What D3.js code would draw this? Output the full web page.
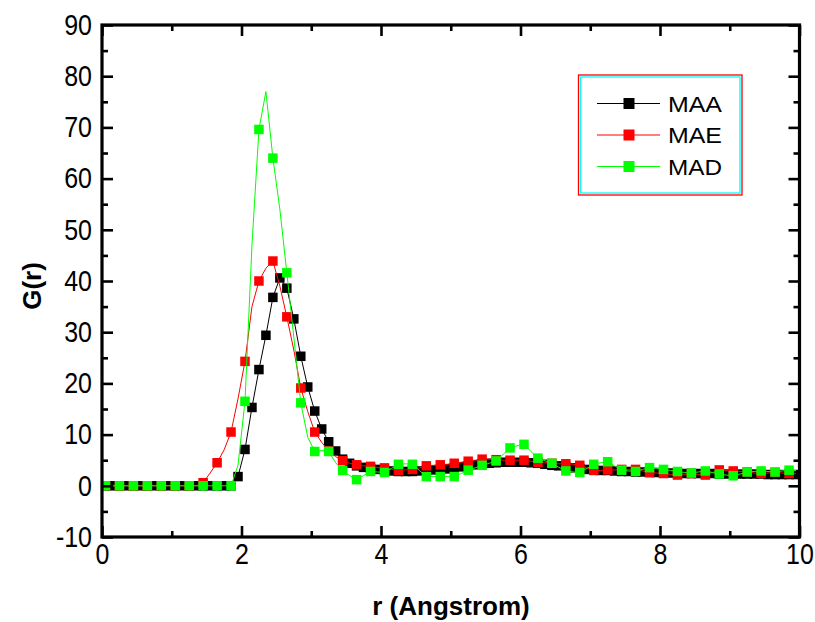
<!DOCTYPE html>
<html><head><meta charset="utf-8">
<script src="https://cdn.jsdelivr.net/npm/d3@7"></script>
<style>
html,body{margin:0;padding:0;background:#fff;}
svg{display:block;font-family:"Liberation Sans",Arial,sans-serif;}
</style></head>
<body><svg id="c" width="815" height="622"></svg>
<script>
// r grid (Angstrom)
const rValues = [0.05,0.15,0.25,0.35,0.45,0.55,0.65,0.75,0.85,0.95,1.05,1.15,1.25,1.35,1.45,1.55,1.65,1.75,1.85,1.95,
2.05,2.15,2.25,2.35,2.45,2.55,2.65,2.75,2.85,2.95,3.05,3.15,3.25,3.35,3.45,3.55,3.65,3.75,3.85,3.95,
4.05,4.15,4.25,4.35,4.45,4.55,4.65,4.75,4.85,4.95,5.05,5.15,5.25,5.35,5.45,5.55,5.65,5.75,5.85,5.95,
6.05,6.15,6.25,6.35,6.45,6.55,6.65,6.75,6.85,6.95,7.05,7.15,7.25,7.35,7.45,7.55,7.65,7.75,7.85,7.95,
8.05,8.15,8.25,8.35,8.45,8.55,8.65,8.75,8.85,8.95,9.05,9.15,9.25,9.35,9.45,9.55,9.65,9.75,9.85,9.95];

const seriesNames = ["MAA","MAE","MAD"];

const maaValues = [0,0,0,0,0,0,0,0,0,0,0,0,0,0,0,0,0,0,0,1.8,
7.1,15.3,22.7,29.4,36.8,40.6,38.6,32.6,25.3,19.3,14.6,11.1,8.6,6.8,5.2,4.4,3.9,3.6,3.4,3.2,
3.0,2.9,2.8,2.8,2.8,2.9,3.0,3.1,3.2,3.3,3.5,3.7,3.9,4.1,4.3,4.4,4.5,4.6,4.6,4.6,
4.6,4.5,4.4,4.2,4.0,3.9,3.7,3.5,3.4,3.2,3.1,3.0,3.0,2.9,2.8,2.8,2.7,2.7,2.6,2.6,
2.5,2.5,2.5,2.4,2.4,2.4,2.4,2.4,2.3,2.3,2.3,2.3,2.3,2.3,2.3,2.2,2.2,2.2,2.2,2.2];

const maeValues = [0,0,0,0,0,0,0,0,0,0,0,0,0,0,0.6,2.5,4.5,7,10.5,17,
24.3,35,40,42.5,43.9,39,33,26.5,19.1,14.5,10.5,8.5,6.8,5.7,4.9,4.4,4.1,3.9,3.8,3.6,
3.5,3.2,3.0,3.1,3.2,3.5,3.9,4.0,4.1,4.2,4.4,4.6,4.8,5.0,5.2,5.2,5.1,5.0,5.0,5.0,
5.0,4.8,4.6,4.5,4.4,4.3,4.3,4.2,4.0,3.5,3.0,3.0,3.1,3.1,3.2,3.2,3.2,2.9,2.6,2.5,
2.4,2.2,2.1,2.2,2.4,2.2,2.1,2.6,3.1,3.0,2.9,2.8,2.7,2.5,2.4,2.5,2.6,2.5,2.4,2.4];

const madValues = [0,0,0,0,0,0,0,0,0,0,0,0,0,0,0,0,0,0,0,4,
16.5,47,69.6,77,64,54,41.6,29,16.2,9.5,6.7,6.9,6.7,4.5,3.0,2.0,1.2,2.0,2.8,2.7,
2.6,3.4,4.2,4.3,4.2,3.0,1.8,1.8,1.8,1.8,1.8,2.4,3.05,3.5,4.0,4.4,4.85,6.1,7.4,7.8,
8.1,6.7,5.4,4.9,4.4,3.6,2.9,2.7,2.6,3.4,4.2,4.5,4.7,3.9,3.05,2.9,2.8,3.2,3.55,3.4,
3.2,3.0,2.8,2.6,2.5,2.7,2.9,2.6,2.3,2.1,1.95,2.3,2.7,2.8,2.9,2.8,2.7,2.9,3.05,3.0];

const xMajorTicks = [0,2,4,6,8,10];
const xMinorTicks = [1,3,5,7,9];
const yMajorTicks = [-10,0,10,20,30,40,50,60,70,80,90];
const yMinorTicks = [-5,5,15,25,35,45,55,65,75,85];

const colors = ["#000000","#ff0000","#00ff00"];
const markerEvery = [1,2,2];

const svg = d3.select("#c");
const L = 102, R = 799.5, T = 25, B = 537;
const x = d3.scaleLinear().domain([0,10]).range([L,R]);
const y = d3.scaleLinear().domain([-10,90]).range([B,T]);

svg.append("defs").append("clipPath").attr("id","clip")
  .append("rect").attr("x",L).attr("y",T).attr("width",R-L).attr("height",B-T);

const allSeries = [maaValues, maeValues, madValues];
const plot = svg.append("g").attr("clip-path","url(#clip)");
const line = d3.line().x((d,i)=>x(rValues[i])).y(d=>y(d));
const ms = 9.5;
allSeries.forEach((vals, s) => {
  const g = plot.append("g");
  g.append("path").attr("d", line(vals)).attr("fill","none")
    .attr("stroke", colors[s]).attr("stroke-width",1);
  const pts = vals.map((v,i)=>({r:rValues[i], v, i})).filter(d => d.i % markerEvery[s] === 0);
  g.selectAll("rect").data(pts).enter().append("rect")
    .attr("x", d=>x(d.r)-ms/2).attr("y", d=>y(d.v)-ms/2)
    .attr("width", ms).attr("height", ms).attr("fill", colors[s]);
});

function styleAxis(g){
  g.select(".domain").remove();
  g.selectAll(".tick line").attr("stroke","#000").attr("stroke-width",2.6);
}
const fmt = d => String(d);   // ASCII hyphen for negatives
const fontSize = 25, stretch = 1.15;
// bottom
const gB = svg.append("g").attr("transform",`translate(0,${B})`)
  .call(d3.axisBottom(x).tickValues(xMajorTicks).tickSizeInner(-11).tickSizeOuter(0).tickFormat(fmt));
styleAxis(gB);
gB.selectAll("text").attr("font-size",fontSize).attr("fill","#000")
  .attr("font-family","Liberation Sans, Arial, sans-serif")
  .attr("y", 7/stretch).attr("transform",`scale(1,${stretch})`);
svg.append("g").attr("transform",`translate(0,${B})`)
  .call(d3.axisBottom(x).tickValues(xMinorTicks).tickSizeInner(-6).tickSizeOuter(0).tickFormat("")).call(styleAxis);
// top
svg.append("g").attr("transform",`translate(0,${T})`)
  .call(d3.axisTop(x).tickValues(xMajorTicks).tickSizeInner(-11).tickSizeOuter(0).tickFormat("")).call(styleAxis);
svg.append("g").attr("transform",`translate(0,${T})`)
  .call(d3.axisTop(x).tickValues(xMinorTicks).tickSizeInner(-6).tickSizeOuter(0).tickFormat("")).call(styleAxis);
// left
const gL = svg.append("g").attr("transform",`translate(${L},0)`)
  .call(d3.axisLeft(y).tickValues(yMajorTicks).tickSizeInner(-11).tickSizeOuter(0).tickPadding(10).tickFormat(fmt));
styleAxis(gL);
gL.selectAll("text").attr("font-size",fontSize).attr("fill","#000")
  .attr("font-family","Liberation Sans, Arial, sans-serif")
  .attr("transform",`scale(1,${stretch})`);
svg.append("g").attr("transform",`translate(${L},0)`)
  .call(d3.axisLeft(y).tickValues(yMinorTicks).tickSizeInner(-6).tickSizeOuter(0).tickFormat("")).call(styleAxis);
// right
svg.append("g").attr("transform",`translate(${R},0)`)
  .call(d3.axisRight(y).tickValues(yMajorTicks).tickSizeInner(-11).tickSizeOuter(0).tickFormat("")).call(styleAxis);
svg.append("g").attr("transform",`translate(${R},0)`)
  .call(d3.axisRight(y).tickValues(yMinorTicks).tickSizeInner(-6).tickSizeOuter(0).tickFormat("")).call(styleAxis);

// frame
svg.append("rect").attr("x",L).attr("y",T).attr("width",R-L).attr("height",B-T)
  .attr("fill","none").attr("stroke","#000").attr("stroke-width",3.2);

// axis titles
svg.append("text").attr("x",451).attr("y",615).attr("text-anchor","middle")
  .attr("font-size",26).attr("font-weight","bold").text("r (Angstrom)");
svg.append("text").attr("transform",`translate(41,${286}) rotate(-90)`).attr("text-anchor","middle")
  .attr("font-size",26).attr("font-weight","bold").text("G(r)");

// legend
const lg = svg.append("g");
lg.append("rect").attr("x",578.5).attr("y",75).attr("width",163.5).attr("height",120)
  .attr("fill","none").attr("stroke","#ff0000").attr("stroke-width",1.3);
lg.append("rect").attr("x",580.5).attr("y",77).attr("width",159.5).attr("height",116)
  .attr("fill","none").attr("stroke","#00ffff").attr("stroke-width",1.3);
const legY = [103.5,135,166.5];
seriesNames.forEach((n,s)=>{
  lg.append("line").attr("x1",597).attr("x2",660).attr("y1",legY[s]).attr("y2",legY[s])
    .attr("stroke",colors[s]).attr("stroke-width",1.2);
  lg.append("rect").attr("x",629-5.5).attr("y",legY[s]-5.5).attr("width",11).attr("height",11).attr("fill",colors[s]);
  lg.append("text").attr("x",668).attr("y",legY[s]+8).attr("font-size",22).attr("fill","#000")
    .attr("textLength",54).attr("lengthAdjust","spacingAndGlyphs").text(n);
});
</script></body></html>
